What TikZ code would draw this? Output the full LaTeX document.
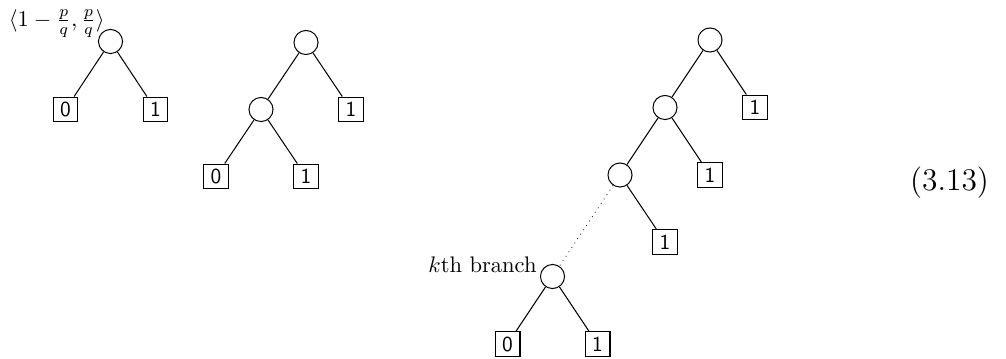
\documentclass[tikz,border=0pt]{standalone}
\begin{document}
\begin{tikzpicture}[x=0.4444pt, y=-0.4444pt,
  inner/.style={draw, circle, minimum size=10.7pt, inner sep=0pt, line width=0.45pt},
  leaf/.style={draw, rectangle, minimum size=11.1pt, inner sep=0pt, line width=0.45pt,
               font=\fontsize{9.5}{10}\sffamily\selectfont},
  edge/.style={line width=0.45pt},
  gap/.style={dotted, line width=0.35pt},
  lbl/.style={inner sep=0pt}]
\useasboundingbox (0,0) rectangle (1006,359);

% first tree: a single choice node
\node[inner] (a) at (110.5,41.5) {};
\node[leaf] (a0) at (65.5,109.5) {0};
\node[leaf] (a1) at (155.5,109.5) {1};
\draw[edge] (a) -- (a0);
\draw[edge] (a) -- (a1);
\node[lbl, anchor=east] (alab) at (105,23.5) {$\langle 1-\frac{p}{q},\frac{p}{q}\rangle$};

% second tree: two levels
\node[inner] (b) at (306,42.5) {};
\node[inner] (bl) at (261,109.5) {};
\node[leaf] (b1) at (351,109.5) {1};
\node[leaf] (bl0) at (216,176.5) {0};
\node[leaf] (bl1) at (306,176.5) {1};
\draw[edge] (b) -- (bl);
\draw[edge] (b) -- (b1);
\draw[edge] (bl) -- (bl0);
\draw[edge] (bl) -- (bl1);

% third tree: chain down to the k-th branch
\node[inner] (c) at (710,40) {};
\node[inner] (c2) at (665,107.5) {};
\node[leaf] (c1) at (755,107.5) {1};
\node[inner] (c3) at (620,175) {};
\node[leaf] (c21) at (710,175) {1};
\node[leaf] (c31) at (665,242) {1};
\node[inner] (k) at (552.5,276.5) {};
\node[leaf] (k0) at (507.5,344) {0};
\node[leaf] (k1) at (597.5,344) {1};
\draw[edge] (c) -- (c2);
\draw[edge] (c) -- (c1);
\draw[edge] (c2) -- (c3);
\draw[edge] (c2) -- (c21);
\draw[edge] (c3) -- (c31);
\draw[gap] (c3) -- (k);
\draw[edge] (k) -- (k0);
\draw[edge] (k) -- (k1);
\node[lbl, anchor=base east] (klab) at (537,272) {$k$th branch};

% equation number
\node[lbl] (eqno) at (949.5,182.5) {\fontsize{14}{16}\selectfont (3.13)};
\end{tikzpicture}
\end{document}
